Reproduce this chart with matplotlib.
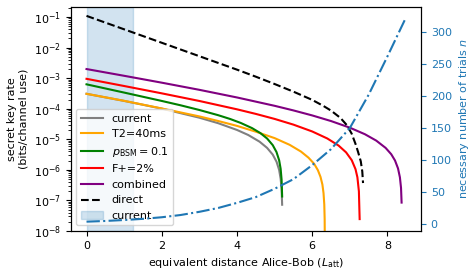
import numpy as np
import matplotlib
matplotlib.use("Agg")
import matplotlib.pyplot as plt

plt.rcParams['font.size'] = 8

# --- data: log10 of secret key rate ---
x_current = [0, 1, 2, 3, 3.5, 4, 4.3, 4.6, 4.8, 4.95, 5.05, 5.12, 5.16, 5.185, 5.2]
lg_current = [-3.51, -3.743, -3.995, -4.292, -4.472, -4.693, -4.859, -5.077, -5.28,
              -5.50, -5.73, -6.00, -6.29, -6.62, -7.14]

x_t2 = [0, 1, 2, 3, 3.5, 4, 4.5, 5, 5.4, 5.7, 5.9, 6.05, 6.15, 6.22, 6.27, 6.30,
        6.32, 6.33, 6.334, 6.335]
lg_t2 = [-3.51, -3.74, -3.99, -4.25, -4.40, -4.56, -4.75, -4.96, -5.18, -5.40, -5.60,
         -5.80, -6.01, -6.23, -6.48, -6.76, -7.13, -7.61, -8.31, -9.0]

x_pbsm = [0, 1, 2, 2.5, 3, 3.5, 3.82, 4.1, 4.4, 4.62, 4.8, 4.95, 5.05, 5.12, 5.16,
          5.185, 5.2]
lg_pbsm = [-3.20, -3.47, -3.744, -3.886, -4.04, -4.21, -4.335, -4.464, -4.633, -4.795,
           -4.973, -5.19, -5.417, -5.684, -5.965, -6.32, -6.87]

x_fplus = [0, 1, 2, 3, 4, 4.5, 5, 5.5, 6, 6.4, 6.7, 6.9, 7.05, 7.15, 7.2, 7.24, 7.26]
lg_fplus = [-3.02, -3.255, -3.495, -3.745, -4.018, -4.168, -4.332, -4.519, -4.743,
            -4.972, -5.204, -5.427, -5.683, -5.976, -6.241, -6.70, -7.61]

x_comb = [0, 1, 2, 3, 4, 5, 5.5, 6, 6.5, 7, 7.4, 7.7, 7.95, 8.1, 8.2, 8.28, 8.33,
          8.36, 8.375]
lg_comb = [-2.70, -2.921, -3.146, -3.380, -3.630, -3.903, -4.054, -4.218, -4.402,
           -4.619, -4.833, -5.041, -5.280, -5.488, -5.693, -5.952, -6.242, -6.589, -7.07]

x_direct = [0, 1, 2, 3, 4, 4.5, 5, 5.5, 6, 6.3, 6.5, 6.75, 6.93, 7.05, 7.15, 7.22,
            7.29, 7.33, 7.35]
lg_direct = [-0.96, -1.40, -1.84, -2.28, -2.72, -2.95, -3.19, -3.44, -3.71, -3.91,
             -4.06, -4.30, -4.55, -4.82, -5.15, -5.42, -5.72, -6.05, -6.43]

# necessary number of trials n (right axis)
x_trials = [0, 0.5, 1, 1.5, 2, 2.5, 3, 3.5, 4, 4.5, 5, 5.5, 6, 6.5, 7, 7.5, 8, 8.47]
n_trials = [3.6, 4.7, 6.2, 8.0, 10.5, 14, 19, 25, 33, 42, 55, 70, 92, 117, 150, 202,
            262, 320]

current_span = [0, 1.23]

labels = ['current', 'T2=40ms', r'$p_{\rm BSM}=0.1$', 'F+=2%', 'combined']
colors = ['grey', 'orange', 'green', 'red', 'purple']

fig = plt.figure(figsize=(4.73, 2.76), dpi=100)
ax = fig.add_axes([0.1495, 0.163, 0.7405, 0.8116])

series = [(x_current, lg_current), (x_t2, lg_t2), (x_pbsm, lg_pbsm),
          (x_fplus, lg_fplus), (x_comb, lg_comb)]
for (xs, lg), lab, c in zip(series, labels, colors):
    ax.plot(xs, 10.0 ** np.array(lg), color=c, label=lab, lw=1.5)
ax.plot(x_direct, 10.0 ** np.array(lg_direct), 'k--', label='direct', lw=1.5)
ax.axvspan(current_span[0], current_span[1], color='C0', alpha=0.2, label='current')

ax.set_yscale('log')
ax.set_ylim(1e-8, 10 ** -0.67)
ax.set_xlim(-0.42, 8.89)
ax.set_xlabel(r'equivalent distance Alice-Bob ($L_{\rm att}$)')
ax.set_ylabel('secret key rate\n(bits/channel use)')
ax.legend(loc='lower left')

ax2 = ax.twinx()
ax2.plot(x_trials, n_trials, '-.', color='C0', lw=1.5)
ax2.set_ylabel(r'necessary number of trials $n$', color='C0')
ax2.tick_params(axis='y', colors='C0')
ax2.set_ylim(-11, 339)
ax2.set_yticks([0, 50, 100, 150, 200, 250, 300])

fig.savefig('out.png', dpi=100)
